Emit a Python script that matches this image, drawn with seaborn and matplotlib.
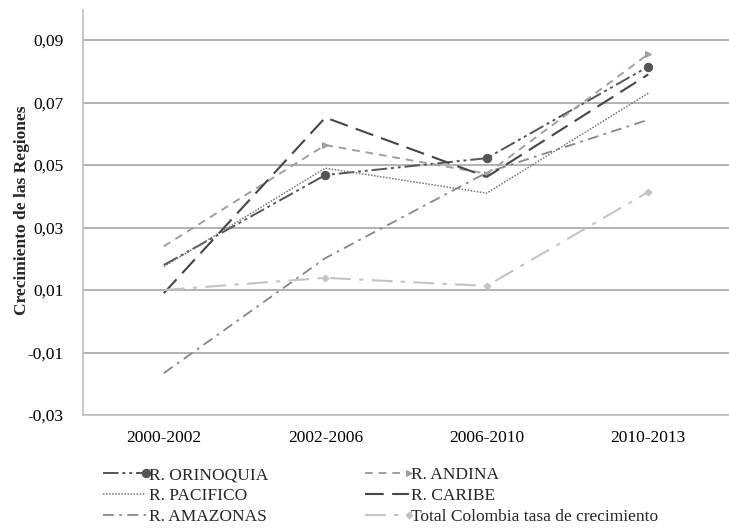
import matplotlib
matplotlib.use("Agg")
import matplotlib.pyplot as plt
import seaborn as sns
import pandas as pd
from matplotlib.ticker import FuncFormatter, FixedLocator

periods = ["2000-2002", "2002-2006", "2006-2010", "2010-2013"]
orinoquia = [0.018, 0.0468, 0.0522, 0.0815]
andina = [0.024, 0.0564, 0.0472, 0.0855]
pacifico = [0.0175, 0.049, 0.041, 0.0730]
caribe = [0.009, 0.0652, 0.0462, 0.0790]
amazonas = [-0.0166, 0.0202, 0.0476, 0.0645]
total = [0.0100, 0.0139, 0.0113, 0.0414]
yticks = [-0.03, -0.01, 0.01, 0.03, 0.05, 0.07, 0.09]

series = [
    ("R. ORINOQUIA", orinoquia, dict(color="#555555", dashes=(8, 2, 1.5, 2, 1.5, 2), marker="o", ms=6, lw=1.4)),
    ("R. PACIFICO", pacifico, dict(color="#777777", dashes=(1, 1), marker=None, ms=0, lw=1.1)),
    ("R. AMAZONAS", amazonas, dict(color="#888888", dashes=(6, 3, 1.5, 3), marker=None, ms=0, lw=1.3)),
    ("R. ANDINA", andina, dict(color="#a0a0a0", dashes=(4, 3), marker=">", ms=4, lw=1.4)),
    ("R. CARIBE", caribe, dict(color="#474747", dashes=(9, 4), marker=None, ms=0, lw=1.5)),
    ("Total Colombia tasa de crecimiento", total, dict(color="#c4c4c4", dashes=(10, 4, 2, 4), marker="D", ms=3.5, lw=1.5)),
]

rows = []
for name, vals, _ in series:
    for p, v in zip(periods, vals):
        rows.append({"Periodo": p, "Valor": v, "Serie": name})
df = pd.DataFrame(rows)

sns.set_theme(style="white")
plt.rcParams["font.family"] = ["Liberation Serif", "DejaVu Serif"]

fig = plt.figure(figsize=(7.29, 5.30), dpi=100)
ax = fig.add_axes([0.114, 0.217, 0.886, 0.764])

plot_lines = []
for name, vals, st in series:
    sub = df[df["Serie"] == name]
    sns.lineplot(data=sub, x="Periodo", y="Valor", ax=ax, color=st["color"],
                 linewidth=st["lw"], marker=st["marker"], markersize=st["ms"],
                 markeredgecolor=st["color"], markerfacecolor=st["color"],
                 label=name, sort=False)
    ln = ax.lines[-1]
    ln.set_dashes(st["dashes"])
    plot_lines.append((ln, st))

ax.set_xlim(-0.5, 3.5)
ax.set_ylim(-0.03, 0.0996)
ax.yaxis.set_major_locator(FixedLocator(yticks))
ax.yaxis.set_major_formatter(FuncFormatter(lambda v, p: f"{v:.2f}".replace(".", ",")))
ax.grid(axis="y", color="#a6a6a6", linewidth=1.2)
ax.grid(axis="x", visible=False)
for s in ["top", "right"]:
    ax.spines[s].set_visible(False)
ax.spines["left"].set_color("#bfbfbf")
ax.spines["bottom"].set_color("#bfbfbf")
ax.spines["left"].set_linewidth(1.2)
ax.spines["bottom"].set_linewidth(1.2)
ax.tick_params(axis="both", length=0, labelsize=12.5, colors="#000000")
ax.tick_params(axis="y", pad=14)
ax.tick_params(axis="x", pad=11)
ax.set_xlabel("")
ax.set_ylabel("Crecimiento de las Regiones", fontsize=12.5, fontweight="bold")
ax.yaxis.label.set_transform(matplotlib.transforms.IdentityTransform())
ax.yaxis.label.set_position((17, 530 - 210))
ax.yaxis.label.set_verticalalignment("center")
ax.yaxis.label.set_horizontalalignment("center")

leg = ax.legend(loc="upper left", bbox_to_anchor=(0.02, -0.112), ncol=2, frameon=False,
                fontsize=12.5, handlelength=2.5, handletextpad=0.15, columnspacing=5.6,
                labelspacing=0.28, borderaxespad=0)
for h in leg.legend_handles:
    try:
        h.set_markevery([2])
    except Exception:
        pass

for ln, st in plot_lines:
    if st["marker"] is not None:
        ln.set_markevery([1, 2, 3])

fig.savefig("out.png", dpi=100)
